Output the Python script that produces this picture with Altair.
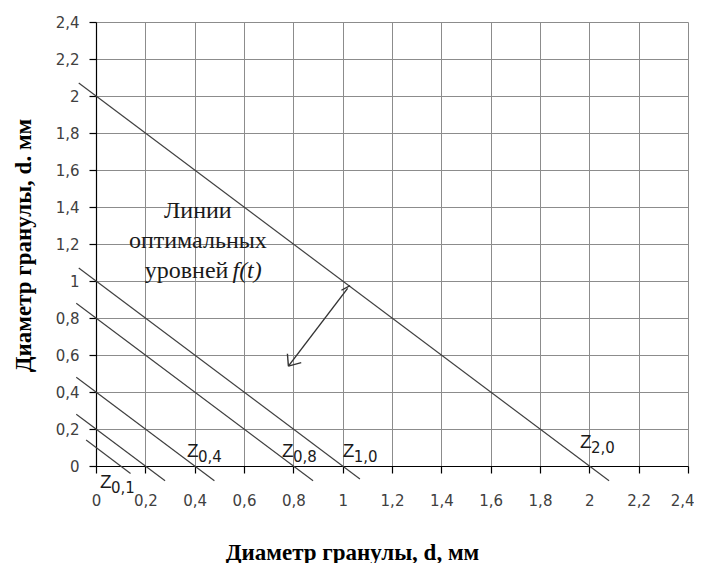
import altair as alt
import pandas as pd

# ---- data ----
levels = [0.1, 0.2, 0.4, 0.8, 1.0, 2.0]
line_x_start = [-0.04, -0.08, -0.08, -0.08, -0.07, -0.07]
line_x_end = [0.14, 0.28, 0.48, 0.88, 1.07, 2.08]

ticks = [0, 0.2, 0.4, 0.6, 0.8, 1.0, 1.2, 1.4, 1.6, 1.8, 2.0, 2.2, 2.4]

z_sub = ["0,1", "0,4", "0,8", "1,0", "2,0"]
z_x = [0.016, 0.369, 0.754, 1.0, 1.962]
z_y = [-0.119, 0.049, 0.049, 0.049, 0.097]

ann_lines = ["Линии", "оптимальных"]
ann_x = [0.413, 0.413]
ann_y = [1.34, 1.178]
ann3_text = "уровней"
ann3_italic = "f(t)"
ann3_x = 0.537
ann3_y = 1.016

arrow_x = [1.02, 0.78, 0.78, 0.995]
arrow_y = [0.96, 0.54, 0.54, 0.95]
arrow_x2 = [0.78, 0.776, 0.832, 1.03]
arrow_y2 = [0.54, 0.607, 0.559, 0.975]

# ---- tables ----
rows = []
for c, xs, xe in zip(levels, line_x_start, line_x_end):
    rows.append({"c": c, "x": xs, "y": c - xs, "o": 0})
    rows.append({"c": c, "x": xe, "y": c - xe, "o": 1})
lines_df = pd.DataFrame(rows)
z_df = pd.DataFrame({"x": z_x, "y": z_y, "sub": z_sub})
ann_df = pd.DataFrame({"x": ann_x, "y": ann_y, "t": ann_lines})
ann3_df = pd.DataFrame({"x": [ann3_x], "y": [ann3_y], "t": [ann3_text], "f": [ann3_italic]})
arrow_df = pd.DataFrame({"x": arrow_x, "y": arrow_y, "x2": arrow_x2, "y2": arrow_y2})

label_expr = "replace(format(datum.value, '.1~f'), '.', ',')"
xscale = alt.Scale(domain=[0, 2.4], nice=False, zero=False)
yscale = alt.Scale(domain=[0, 2.4], nice=False, zero=False)

x_axis = alt.Axis(values=ticks, labelExpr=label_expr, tickCount=13,
                  title="Диаметр гранулы, d, мм",
                  titleX=256, titleY=86, titleAlign="center", titleBaseline="middle",
                  labelPadding=20,
                  labelAlign={"condition": {"test": "datum.value >= 2.39", "value": "right"},
                              "value": "center"},
                  labelOffset={"condition": {"test": "datum.value >= 2.39", "value": 6},
                               "value": 0})
y_axis = alt.Axis(values=ticks, labelExpr=label_expr, tickCount=13,
                  title="Диаметр гранулы, d. мм",
                  titleX=-73, titleY=223, titleAlign="center", titleBaseline="middle",
                  labelPadding=10)


def X(field="x"):
    return alt.X(f"{field}:Q", scale=xscale, axis=x_axis, title="Диаметр гранулы, d, мм")


def Y(field="y"):
    return alt.Y(f"{field}:Q", scale=yscale, axis=y_axis, title="Диаметр гранулы, d. мм")


lines = alt.Chart(lines_df).mark_line(color="#404040", strokeWidth=1.2, clip=False).encode(
    x=X(), y=Y(), detail="c:N", order="o:Q",
)

arrows = alt.Chart(arrow_df).mark_rule(color="#333333", strokeWidth=1.4, clip=False).encode(
    x=X(), y=Y(), x2="x2:Q", y2="y2:Q",
)

z_text = alt.Chart(z_df).mark_text(
    text="Z", font="Liberation Sans", fontSize=19, align="left", baseline="alphabetic",
    color="#1a1a1a", clip=False
).encode(x=X(), y=Y())

z_subs = alt.Chart(z_df).mark_text(
    font="DejaVu Sans", fontSize=15, align="left", baseline="alphabetic",
    dx=11, dy=5, color="#1a1a1a", clip=False
).encode(x=X(), y=Y(), text="sub:N")

ann = alt.Chart(ann_df).mark_text(
    font="Liberation Serif", fontSize=24, align="center", baseline="alphabetic", color="#1a1a1a"
).encode(x=X(), y=Y(), text="t:N")

ann3 = alt.Chart(ann3_df).mark_text(
    font="Liberation Serif", fontSize=24, align="right", baseline="alphabetic", color="#1a1a1a"
).encode(x=X(), y=Y(), text="t:N")

ann3i = alt.Chart(ann3_df).mark_text(
    font="Liberation Serif", fontSize=24, fontStyle="italic", align="left",
    baseline="alphabetic", dx=4, color="#1a1a1a"
).encode(x=X(), y=Y(), text="f:N")

chart = alt.layer(lines, arrows, z_text, z_subs, ann, ann3, ann3i).properties(
    width=592, height=444,
    padding={"left": 88, "top": 14, "right": 6, "bottom": 97},
    autosize=alt.AutoSizeParams(type="none"),
    background="white",
).configure_view(strokeWidth=0).configure_axis(
    grid=True, gridColor="#8c8c8c", gridWidth=1,
    domainColor="black", domainWidth=1.2,
    tickColor="black", tickSize=7, tickWidth=1.2,
    labelFont="DejaVu Sans", labelFontSize=15, labelColor="#404040",
    labelOverlap=False, labelFlush=False,
    titleFont="Liberation Serif", titleFontWeight="bold", titleFontSize=23, titleColor="black",
)

chart.save("out.html", embed_options={"renderer": "svg", "actions": False})
